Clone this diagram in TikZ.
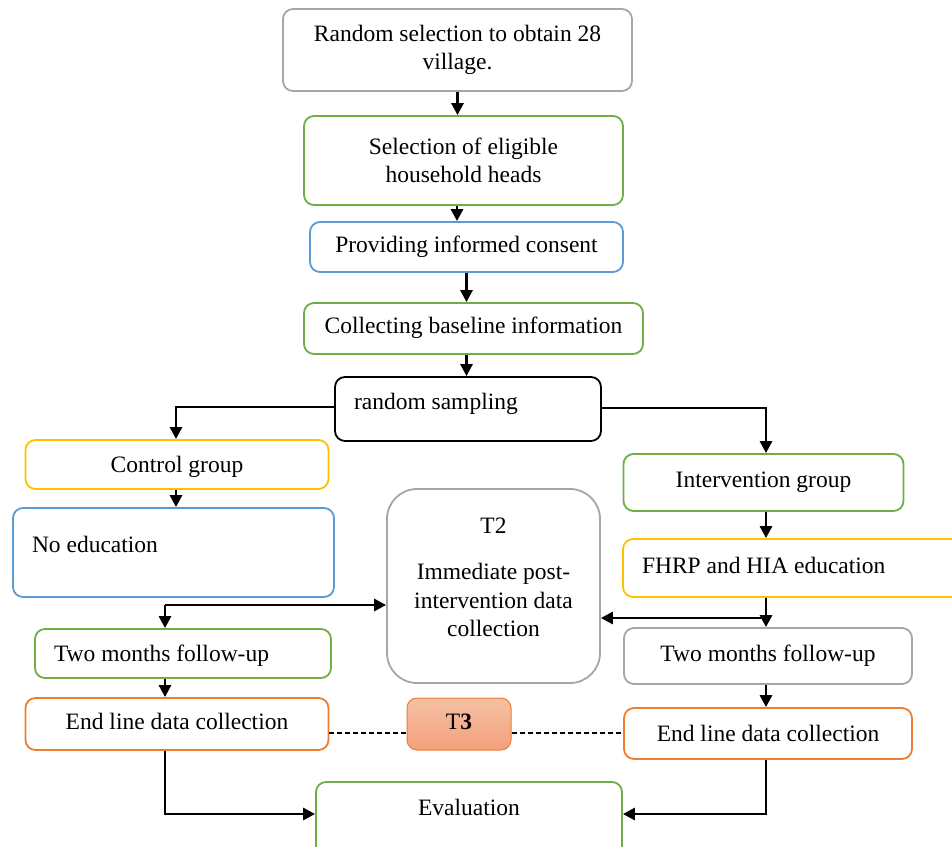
\documentclass[tikz,border=0pt]{standalone}
\usepackage{fontspec}
\setmainfont{Liberation Serif}
\usetikzlibrary{arrows.meta}
\definecolor{cgray}{HTML}{A6A6A6}
\definecolor{cgreen}{HTML}{70AD47}
\definecolor{cblue}{HTML}{5B9BD5}
\definecolor{cgold}{HTML}{FFC000}
\definecolor{corange}{HTML}{ED7D31}
\definecolor{tthreetop}{HTML}{F6C0A4}
\definecolor{tthreebot}{HTML}{F2A07C}
\begin{document}
\begin{tikzpicture}[x=1pt,y=-1pt,
  font=\fontsize{23.5}{28.5}\selectfont,
  box/.style={draw, rounded corners=10pt, line width=1.8pt, inner sep=0pt, align=center},
  one/.style={text height=16pt, text depth=#1},
  one/.default=5pt,
  lbox/.style={box, align=flush left, inner xsep=19pt, text width=#1},
  arr/.style={line width=2.8pt, -{Triangle[length=12pt,width=12pt]}},
  dline/.style={line width=1.2pt, dash pattern=on 5pt off 3pt}]
\useasboundingbox (0,0) rectangle (952,846);

% nodes
\node[box, draw=cgray, minimum width=349pt, minimum height=82pt] (n1) at (457.5,50) {Random selection to obtain 28\\village.};
\node[box, draw=cgreen, minimum width=319pt, minimum height=89pt] (n2) at (463.5,160.5) {Selection of eligible\\household heads};
\node[box, draw=cblue, minimum width=313pt, minimum height=50pt, one] (n3) at (466.5,247) {Providing informed consent};
\node[box, draw=cgreen, minimum width=339pt, minimum height=51pt, one=7pt] (n4) at (473.5,328.5) {Collecting baseline information};
\node[lbox=228pt, draw=black, minimum height=64pt, one=16pt] (n5) at (468,409) {random sampling};

\node[box, draw=cgold, minimum width=303pt, minimum height=49pt, one=1pt] (ctrl) at (177,464.5) {Control group};
\node[box, draw=cgreen, minimum width=280pt, minimum height=57pt, one=7pt] (int) at (763.5,482.5) {Intervention group};

\node[lbox=283pt, draw=cblue, minimum height=89pt, one=17pt] (noed) at (173.5,552.5) {No education};
\node[lbox=314pt, draw=cgold, minimum height=58pt, one] (fhrp) at (799,568) {FHRP and HIA education};

\node[box, draw=cgray, rounded corners=30pt, minimum width=213pt, minimum height=194pt] (t2) at (493.5,586) {T2\\[17.5pt]Immediate post-\\intervention data\\collection\rule[-17pt]{0pt}{0pt}};

\node[lbox=258pt, draw=cgreen, minimum height=49pt, one=0pt] (tmL) at (183,653.5) {Two months follow-up};
\node[box, draw=cgray, minimum width=288pt, minimum height=56pt, one] (tmR) at (768,656) {Two months follow-up};

\node[box, draw=corange, minimum width=303pt, minimum height=52pt, one] (endL) at (177,724) {End line data collection};
\node[box, draw=corange, line width=1pt, top color=tthreetop, bottom color=tthreebot, minimum width=104pt, minimum height=52pt, one] (t3) at (459,724) {T\textbf{3}};
\node[box, draw=corange, minimum width=288pt, minimum height=51pt, one=1pt] (endR) at (768,733.5) {End line data collection};

\node[box, draw=cgreen, minimum width=306pt, minimum height=90pt, one=40pt] (ev) at (469,827) {Evaluation};

% helper coordinates
\coordinate (cL) at (165,0);
\coordinate (cC) at (176,0);
\coordinate (cR) at (766,0);
\coordinate (jL) at (165,605);
\coordinate (jR) at (766,618);

% arrows
\draw[arr] (n1.south) -- (n1.south |- n2.north);
\draw[arr] ([xshift=-6.5pt]n2.south) -- ([xshift=-6.5pt]n2.south |- n3.north);
\draw[arr] (n3.south) -- (n3.south |- n4.north);
\draw[arr] (n3.south |- n4.south) -- (n3.south |- n5.north);

\draw[arr] (n5.west |- 0,407) -- (cC |- 0,407) -- (cC |- ctrl.north);
\draw[arr] (n5.east |- 0,408) -- (cR |- 0,408) -- (cR |- int.north);

\draw[arr] (cC |- ctrl.south) -- (cC |- noed.north);
\draw[arr] (cR |- int.south) -- (cR |- fhrp.north);

\draw[arr] (jL) -- (jL -| t2.west);
\draw[arr] (jL) -- (jL |- tmL.north);
\draw[arr] (cR |- fhrp.south) -- (cR |- tmR.north);
\draw[arr] (jR) -- (jR -| t2.east);

\draw[arr] (cL |- tmL.south) -- (cL |- endL.north);
\draw[arr] (cR |- tmR.south) -- (cR |- endR.north);

\draw[dline] (endL.east |- 0,733) -- (t3.west |- 0,733);
\draw[dline] (t3.east |- 0,733) -- (endR.west |- 0,733);

\draw[arr] (cL |- endL.south) -- (cL |- 0,814) -- (ev.west |- 0,814);
\draw[arr] (cR |- endR.south) -- (cR |- 0,814) -- (ev.east |- 0,814);
\end{tikzpicture}
\end{document}
